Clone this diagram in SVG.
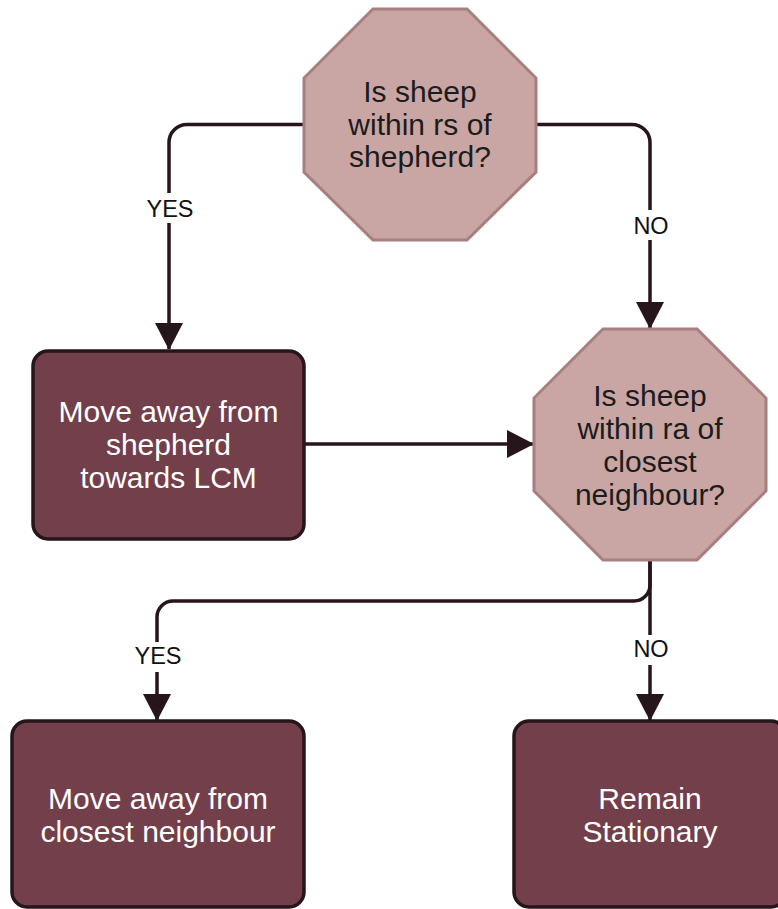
<svg xmlns="http://www.w3.org/2000/svg" width="778" height="909" viewBox="0 0 778 909">
<defs>
<style>
.conn{fill:none;stroke:#26151b;stroke-width:3.5}
.oct{fill:#c9a6a4;stroke:#a67f7e;stroke-width:3}
.box{fill:#723f4b;stroke:#26151b;stroke-width:3.5}
.t{font-family:"Liberation Sans",Arial,sans-serif;font-size:30px;text-anchor:middle}
.dark{fill:#1c1c1c}
.light{fill:#ffffff}
.lbl{font-family:"Liberation Sans",Arial,sans-serif;font-size:23.5px;text-anchor:middle;fill:#111111}
.bg{fill:#ffffff}
</style>
<marker id="arr" markerUnits="userSpaceOnUse" markerWidth="27" markerHeight="28" viewBox="0 0 27 28" refX="26" refY="14" orient="auto">
<path d="M0,0 L27,14 L0,28 Z" fill="#26151b"/>
</marker>
</defs>
<rect width="778" height="909" fill="#ffffff"/>
<g id="connectors">
<path class="conn" d="M304,124.5 H187 A18,18 0 0 0 169,142.5 V349" marker-end="url(#arr)"/>
<path class="conn" d="M536,124.5 H632 A18,18 0 0 1 650,142.5 V328" marker-end="url(#arr)"/>
<path class="conn" d="M304,444 H533" marker-end="url(#arr)"/>
<path class="conn" d="M650,560 V585 A16,16 0 0 1 634,601 H173 A16,16 0 0 0 157,617 V720" marker-end="url(#arr)"/>
<path class="conn" d="M650,560 V720" marker-end="url(#arr)"/>
<rect class="bg" x="140" y="193" width="60" height="30"/>
<text class="lbl" x="170" y="217">YES</text>
<rect class="bg" x="628" y="210" width="46" height="30"/>
<text class="lbl" x="651" y="234">NO</text>
<rect class="bg" x="128" y="642" width="60" height="30"/>
<text class="lbl" x="158" y="664">YES</text>
<rect class="bg" x="628" y="635" width="46" height="30"/>
<text class="lbl" x="651" y="657">NO</text>
</g>
<g id="q1">
<polygon class="oct" points="373,9 467,9 536,78 536,172 467,240 373,240 304,172 304,78"/>
<text class="t dark" x="420" y="102">Is sheep</text>
<text class="t dark" x="420" y="134.5">within rs of</text>
<text class="t dark" x="420" y="167">shepherd?</text>
</g>
<g id="q2">
<polygon class="oct" points="603,329 697,329 766,398 766,491 697,560 603,560 534,491 534,398"/>
<text class="t dark" x="650" y="406">Is sheep</text>
<text class="t dark" x="650" y="439">within ra of</text>
<text class="t dark" x="650" y="472">closest</text>
<text class="t dark" x="650" y="505">neighbour?</text>
</g>
<g id="move-shepherd">
<rect class="box" x="33" y="351" width="271" height="188" rx="15"/>
<text class="t light" x="168.5" y="422">Move away from</text>
<text class="t light" x="168.5" y="455">shepherd</text>
<text class="t light" x="168.5" y="488">towards LCM</text>
</g>
<g id="move-neighbour">
<rect class="box" x="12" y="721" width="292" height="186" rx="15"/>
<text class="t light" x="158" y="809">Move away from</text>
<text class="t light" x="158" y="842">closest neighbour</text>
</g>
<g id="remain">
<rect class="box" x="514" y="721" width="272" height="186" rx="15"/>
<text class="t light" x="650" y="809">Remain</text>
<text class="t light" x="650" y="842">Stationary</text>
</g>
</svg>
